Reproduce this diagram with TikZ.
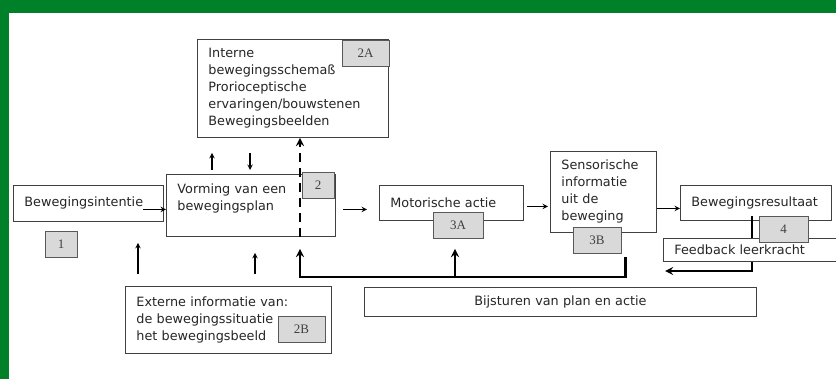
\documentclass[tikz,border=0pt]{standalone}
\usepackage{fontspec}
\newfontfamily\handfont{DejaVu Sans}
\newfontfamily\tagfont{Liberation Serif}
\definecolor{framegreen}{RGB}{0,128,40}
\tikzset{
  box/.style={draw=black!75, line width=0.9pt, anchor=north west, align=left,
    inner xsep=11pt, inner ysep=2pt, text=black!85,
    font=\handfont\fontsize{12.8}{17}\selectfont},
  tag/.style={draw=black!65, fill=black!15, line width=0.9pt, minimum height=26pt,
    inner sep=0pt, text=black!75, font=\tagfont\fontsize{13}{14}\selectfont},
  arr/.style={-stealth, line width=1.4pt},
  fb/.style={-stealth, line width=2.6pt}
}
\begin{document}
\begin{tikzpicture}[x=1pt, y=-1pt]
    % frame
    \clip (0,0) rectangle (836,379);
    \fill[framegreen] (0,0) rectangle (836,379);
    \fill[white] (9,13) rectangle (836,379);
    % boxes
    \node[box, text width=128pt, minimum height=36pt] (intent) at (13,185) {Bewegingsintentie};
    \node[box, text width=147pt, minimum height=62pt] (plan) at (166,174) {Vorming van een\\bewegingsplan\\\mbox{}};
    \node[box, text width=169pt, minimum height=98pt] (intern) at (197,39) {Interne\\bewegingsschemaß\\Prorioceptische\\ervaringen/bouwstenen\\Bewegingsbeelden};
    \node[box, text width=184pt, minimum height=67pt] (extern) at (125,286) {Externe informatie van:\\de bewegingssituatie\\het bewegingsbeeld};
    \node[box, text width=122pt, minimum height=35pt] (motor) at (379,185) {Motorische actie};
    \node[box, text width=84pt, minimum height=81pt] (sensor) at (550,151) {Sensorische\\informatie\\uit de\\beweging};
    \node[box, text width=129pt, minimum height=35pt] (result) at (680,185) {Bewegingsresultaat};
    \node[box, text width=370pt, minimum height=29pt, align=center] (adjust) at (364,287) {Bijsturen van plan en actie};
    % connectors
    \draw[arr] ([xshift=-21pt,yshift=-6pt]intent.east) -- ([yshift=-6pt]intent.east -| plan.west);
    \draw[arr, shorten <=7pt, shorten >=12pt] ([yshift=-4pt]plan.east) -- ([yshift=-4pt]plan.east -| motor.west);
    \draw[arr, shorten <=3pt, shorten >=2pt] ([yshift=-3.5pt]motor.east) -- ([yshift=-3.5pt]motor.east -| sensor.west);
    \draw[arr] ([yshift=-5.5pt]result.west -| sensor.east) -- ([yshift=-5.5pt]result.west);
    \draw[arr, shorten <=4pt, shorten >=15pt] (plan.north -| 212,0) -- (intern.south -| 212,0);
    \draw[arr, shorten <=15pt, shorten >=4pt] (intern.south -| 250,0) -- (plan.north -| 250,0);
    \draw[arr, line width=2.6pt, dash pattern=on 9pt off 6pt] (plan.south -| 300,0) -- (intern.south -| 300,0);
    \draw[arr, shorten <=12pt, shorten >=6pt] (extern.north -| 138,0) -- (plan.south -| 138,0);
    \draw[arr, shorten <=12pt, shorten >=16pt] (extern.north -| 255,0) -- (plan.south -| 255,0);
    \coordinate (fbtip) at (665,271);
    \draw[fb] ([yshift=5pt]result.south -| 752,0) |- (fbtip);
    \node[box, fill=white, text width=210pt, minimum height=23pt] (feedback) at (663,238) {Feedback leerkracht};
    % tags
    \foreach \tag/\x/\y/\w in {1/61/244.5/32, 2/318/185/32, 2A/365.5/53.5/47, 2B/301.5/329.5/47,
        3A/458/225.5/50, 3B/597/240.5/48, 4/783.5/229.5/49} {
        \node[tag, minimum width=\w pt] (tag\tag) at (\x,\y) {\tag};
    }
    % bijsturen
    \coordinate (split) at (455,277);
    \draw[fb] ([xshift=4pt,yshift=-3pt]tag3B.south east) |- (split) -| ([yshift=-12pt]plan.south -| 300,0);
    \draw[fb, shorten >=10pt] (split) -- (tag3A.south -| split);
\end{tikzpicture}
\end{document}
